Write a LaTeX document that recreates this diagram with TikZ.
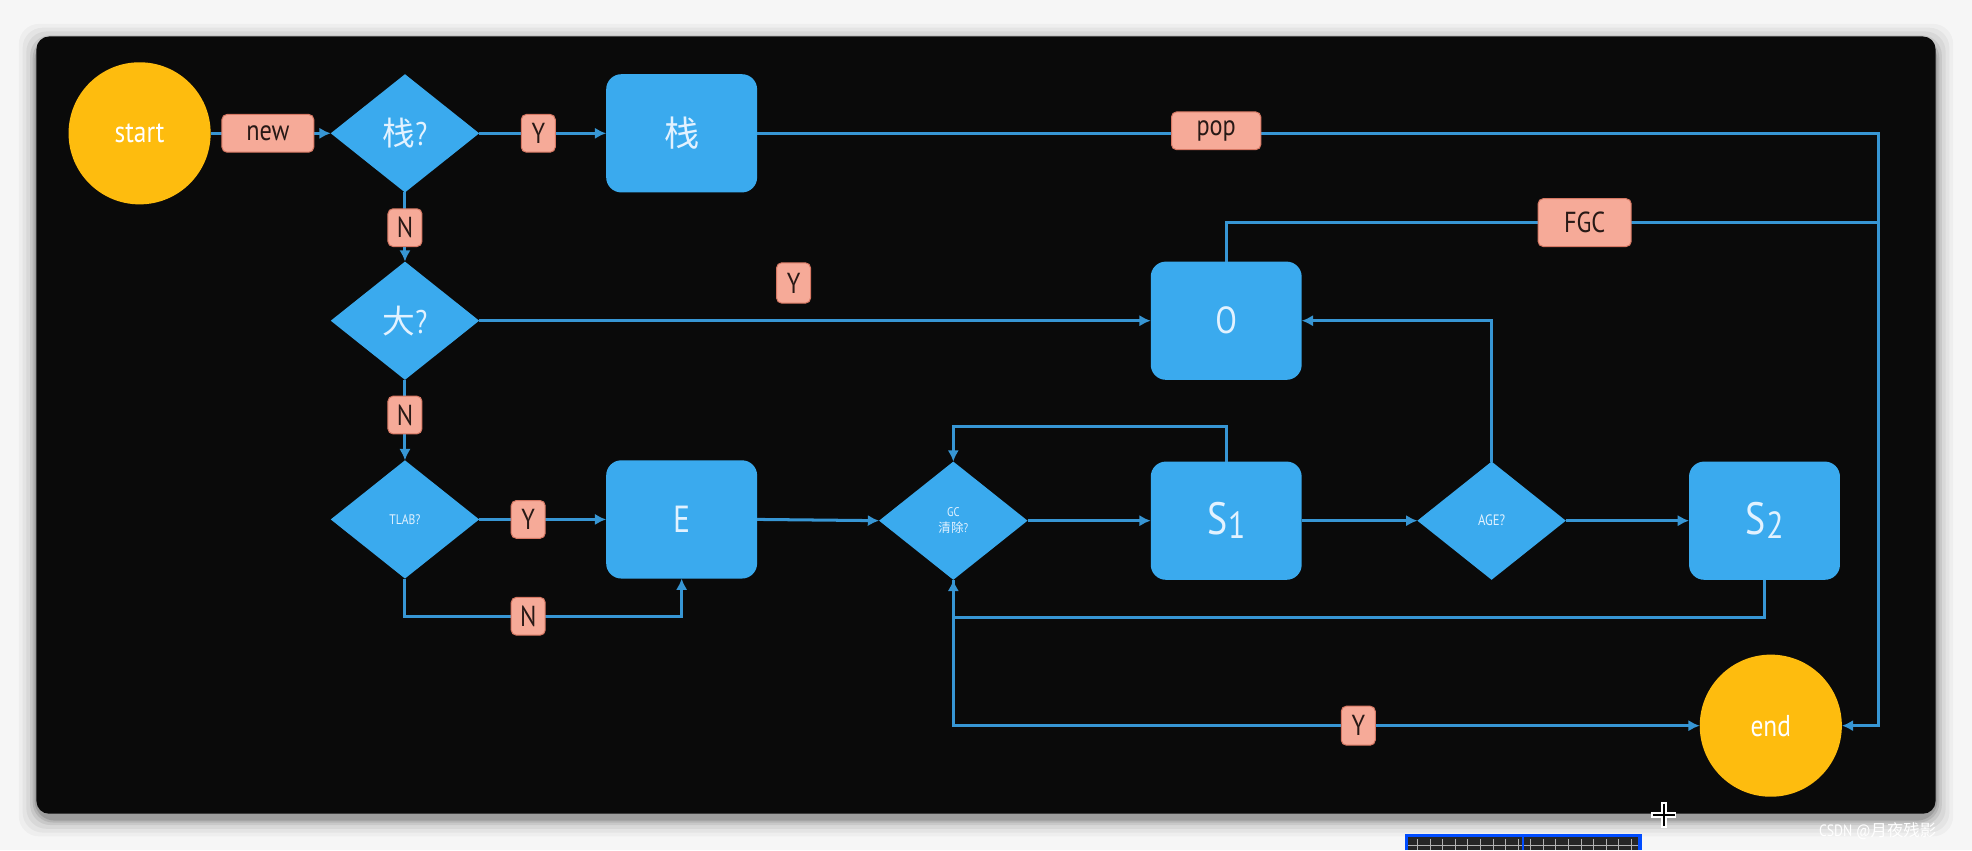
\documentclass[tikz,border=0pt]{standalone}
\usepackage{fontspec}
\setmainfont{PT Sans}[FakeStretch=0.84]
\newfontfamily\cjk{Noto Sans CJK SC}
\usetikzlibrary{shapes.geometric,arrows.meta}
\definecolor{pagebg}{RGB}{246,246,246}
\definecolor{panelc}{RGB}{10,10,10}
\definecolor{bluebox}{RGB}{58,170,238}
\definecolor{blueline}{RGB}{55,150,212}
\definecolor{pinkl}{RGB}{246,170,152}
\definecolor{pinkb}{RGB}{214,120,100}
\definecolor{yel}{RGB}{254,188,14}
\definecolor{boxtext}{RGB}{226,242,255}
\definecolor{labtext}{RGB}{40,25,22}
\begin{document}
\begin{tikzpicture}[x=0.5pt,y=-0.5pt,
  proc/.style={fill=bluebox, rounded corners=6pt, minimum width=60pt, minimum height=47pt, text=boxtext, inner sep=0pt, outer sep=0pt},
  dec/.style={diamond, fill=bluebox, minimum width=59pt, minimum height=47pt, text=boxtext, inner sep=0pt, outer sep=0pt, align=center},
  term/.style={circle, fill=yel, minimum size=56.5pt, inner sep=0pt, outer sep=0pt, text=white, font=\fontsize{12}{14}\selectfont},
  lab/.style={fill=pinkl, draw=pinkb, line width=0.4pt, rounded corners=2pt, minimum height=15pt, minimum width=13.5pt, inner sep=1.5pt, text=labtext, font=\fontsize{11.5}{13}\selectfont},
  conn/.style={draw=blueline, line width=1.2pt},
  arr/.style={conn, -{Latex[length=4.5pt,width=4.5pt]}}
]
% page and panel
\fill[pagebg] (0,0) rectangle (1568,676);
\foreach \i/\o in {14/0.03,11/0.04,8/0.05,5/0.07,3/0.09,1.5/0.12}{
  \fill[black,opacity=\o,rounded corners=8pt] (29-\i,29-\i+4) rectangle (1539+\i,647+\i+4);
}
\fill[panelc,rounded corners=5pt] (29,29) rectangle (1539,647);
\useasboundingbox (0,0) rectangle (1568,676);

% nodes
\node[term] (start) at (111,106) {start};
\node[dec, font=\fontsize{13}{15}\selectfont] (q1) at (322,106) {{\cjk 栈}?};
\node[proc, font=\fontsize{14}{16}\selectfont] (stack) at (542,106) {\cjk 栈};
\node[dec, font=\fontsize{13}{15}\selectfont] (big) at (322,255) {{\cjk 大}?};
\node[proc, font=\fontsize{15}{17}\selectfont] (O) at (975,255) {O};
\node[dec, font=\fontsize{5.5}{6.5}\selectfont] (tlab) at (322,413) {TLAB?};
\node[proc, font=\fontsize{15}{17}\selectfont] (E) at (542,413) {E};
\node[dec, font=\fontsize{5}{6.5}\selectfont] (gc) at (758,414) {GC\\{\cjk 清除}?};
\node[proc, font=\fontsize{18}{20}\selectfont] (s1) at (975,414) {S\kern0.3pt\raisebox{-1.5pt}{\fontsize{15}{15}\selectfont 1}};
\node[dec, font=\fontsize{6}{7}\selectfont] (age) at (1186,414) {AGE?};
\node[proc, font=\fontsize{18}{20}\selectfont] (s2) at (1403,414) {S\kern0.3pt\raisebox{-1.5pt}{\fontsize{15}{15}\selectfont 2}};
\node[term] (endc) at (1408,577) {end};
\coordinate (rtop) at (1494,106);
\coordinate (rfgc) at (1494,177);

% connectors
\draw[arr] (start.east) -- (q1.west);
\draw[arr] (q1.east) -- (stack.west);
\draw[arr] (stack.east) -- (rtop) |- (endc.east);
\draw[conn] (O.north) |- (rfgc);
\draw[arr] (q1.south) -- (big.north);
\draw[arr] (big.east) -- (O.west);
\draw[arr] (big.south) -- (tlab.north);
\draw[arr] (tlab.east) -- (E.west);
\draw[arr] (tlab.south) -- ++(0,30) -| (E.south);
\draw[arr] (E.east) -- (gc.west);
\draw[arr] (gc.east) -- (s1.west);
\draw[arr] (s1.north) -- ++(0,-28) -| (gc.north);
\draw[arr] (s1.east) -- (age.west);
\draw[arr] (age.north) |- (O.east);
\draw[arr] (age.east) -- (s2.west);
\draw[arr] (s2.south) -- ++(0,30) -| (gc.south);
\draw[arr] (gc.south) |- (endc.west);

% labels
\node[lab, minimum width=36.5pt] (lnew) at (213,106) {new};
\node[lab] (ly1) at (428,106) {Y};
\node[lab, minimum width=35.5pt] (lpop) at (967,104) {pop};
\node[lab, minimum width=37pt, minimum height=19pt] (lfgc) at (1260,177) {FGC};
\node[lab] (ln1) at (322,181) {N};
\node[lab, minimum height=16pt] (ly2) at (631,225) {Y};
\node[lab] (ln2) at (322,330) {N};
\node[lab] (ly3) at (420,413) {Y};
\node[lab] (ln3) at (420,490) {N};
\node[lab, minimum height=15.5pt] (ly4) at (1080,577) {Y};

% screenshot extras
\fill[black!85] (1117,663) rectangle (1305,676);
\foreach \gx in {1127,1137,...,1300}{\draw[gray!60,line width=0.2pt] (\gx,667) -- (\gx,676);}
\draw[gray!60,line width=0.2pt] (1119,672) -- (1303,672);
\draw[blue!70!cyan,line width=1.2pt] (1118,676) |- (1304,664) -- (1304,676);
\draw[blue!70!cyan,line width=0.8pt] (1211,665) -- (1211,676);
\draw[white,line width=2.2pt] (1323,638) -- (1323,658) (1313,648) -- (1333,648);
\draw[black,line width=0.8pt] (1323,639) -- (1323,657) (1314,648) -- (1332,648);
\node[text=white, font=\fontsize{6.5}{7}\selectfont, anchor=west, inner sep=0pt] (wm) at (1446,661) {CSDN @{\cjk 月夜残影}};
\end{tikzpicture}
\end{document}
